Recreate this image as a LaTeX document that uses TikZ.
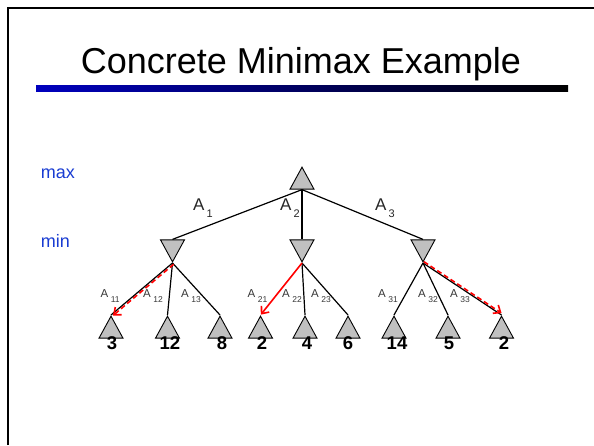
\documentclass[tikz,border=0pt]{standalone}
\usepackage{fontspec}
\setmainfont{Liberation Sans}
\usetikzlibrary{shapes.geometric,arrows.meta}
\definecolor{lblue}{RGB}{25,60,210}
\definecolor{trigray}{RGB}{192,192,192}
\definecolor{barblue}{RGB}{0,0,190}
\definecolor{labgray}{RGB}{55,55,55}
\newcommand\mysubA[1]{\raisebox{-7pt}{\fontsize{11}{13}\selectfont #1}}
\newcommand\mysubB[1]{\raisebox{-5pt}{\fontsize{8.5}{10}\selectfont #1}}
\begin{document}
\begin{tikzpicture}[x=1pt,y=-1pt,
  maxtri/.style={isosceles triangle, isosceles triangle stretches, shape border rotate=90,
    minimum width=24pt, minimum height=22pt, inner sep=0pt, fill=trigray, draw=black,
    line width=0.9pt, anchor=apex},
  mintri/.style={maxtri, shape border rotate=270},
  edgeline/.style={line width=1.2pt, black},
  num/.style={font=\fontsize{18.5}{20}\selectfont\bfseries, inner sep=0pt},
  toplab/.style={font=\fontsize{17}{19}\selectfont, text=black!85, inner sep=0pt, anchor=base west},
  leaflab/.style={font=\fontsize{11.5}{13}\selectfont, text=labgray, inner sep=0pt, anchor=base west},
  lvl/.style={font=\fontsize{18}{20}\selectfont, text=lblue, inner sep=0pt, anchor=base west},
  redarrow/.style={draw=red, line width=1.6pt, -{Straight Barb[length=6pt,width=10pt]}},
  reddash/.style={redarrow, dash pattern=on 5pt off 3pt}]
\useasboundingbox (0,0) rectangle (594,445);
% slide frame and title
\draw[line width=2.2pt] (8,445) -- (8,8) -- (594,8);
\node[font=\fontsize{36}{40}\selectfont, inner sep=0pt, anchor=base] (title) at (301,73) {Concrete Minimax Example};
\shade[left color=barblue, right color=black] (36,85) rectangle (568,91);
% level labels
\node[lvl] (maxlab) at (40.7,178) {max};
\node[lvl] (minlab) at (40.7,247) {min};
% tree nodes
\node[maxtri] (r) at (302,166) {};
\node[mintri] (m1) at (172.5,263) {};
\node[mintri] (m2) at (302,263) {};
\node[mintri] (m3) at (423,263) {};
\node[maxtri] (t1) at (111,315) {};
\node[maxtri] (t2) at (167.5,315) {};
\node[maxtri] (t3) at (220,315) {};
\node[maxtri] (t4) at (260.5,315) {};
\node[maxtri] (t5) at (305,315) {};
\node[maxtri] (t6) at (348,315) {};
\node[maxtri] (t7) at (394,315) {};
\node[maxtri] (t8) at (448,315) {};
\node[maxtri] (t9) at (501.5,315) {};
% edges
\draw[edgeline] (r.lower side) -- (m1.lower side);
\draw[edgeline] (r.lower side) -- (m2.lower side);
\draw[edgeline] (r.lower side) -- (m3.lower side);
\draw[edgeline] (m1.apex) -- (t1.apex);
\draw[edgeline] (m1.apex) -- (t2.apex);
\draw[edgeline] (m1.apex) -- (t3.apex);
\draw[edgeline] (m2.apex) -- (t5.apex);
\draw[edgeline] (m2.apex) -- (t6.apex);
\draw[edgeline] (m3.apex) -- (t7.apex);
\draw[edgeline] (m3.apex) -- (t8.apex);
\draw[edgeline] (m3.apex) -- (t9.apex);
% red arrows
\draw[reddash, transform canvas={shift={(1.2,1.2)}}, shorten >=1pt] (m1.apex) -- (t1.apex);
\draw[redarrow, shorten >=0.5pt] (m2.apex) -- (t4.apex);
\draw[reddash, transform canvas={shift={(0.9,-1.3)}}, shorten >=1pt] (m3.apex) -- (t9.apex);
% values
\node[num] (v1) at (112,343.5) {3};
\node[num] (v2) at (170,343.5) {12};
\node[num] (v3) at (222,343.5) {8};
\node[num] (v4) at (262,343.5) {2};
\node[num] (v5) at (307,343.5) {4};
\node[num] (v6) at (348,343.5) {6};
\node[num] (v7) at (397,343.5) {14};
\node[num] (v8) at (449,343.5) {5};
\node[num] (v9) at (504,343.5) {2};
% action labels, top
\node[toplab] (a1) at (193,210) {A\kern2pt\mysubA{1}};
\node[toplab] (a2) at (280,210) {A\kern2pt\mysubA{2}};
\node[toplab] (a3) at (375,210) {A\kern2pt\mysubA{3}};
% action labels, bottom
\node[leaflab] (a11) at (100.5,297.5) {A\kern2.5pt\mysubB{11}};
\node[leaflab] (a12) at (143,297.5) {A\kern2.5pt\mysubB{12}};
\node[leaflab] (a13) at (181,297.5) {A\kern2.5pt\mysubB{13}};
\node[leaflab] (a21) at (247.5,297.5) {A\kern2.5pt\mysubB{21}};
\node[leaflab] (a22) at (282,297.5) {A\kern2.5pt\mysubB{22}};
\node[leaflab] (a23) at (311,297.5) {A\kern2.5pt\mysubB{23}};
\node[leaflab] (a31) at (378,297.5) {A\kern2.5pt\mysubB{31}};
\node[leaflab] (a32) at (418,297.5) {A\kern2.5pt\mysubB{32}};
\node[leaflab] (a33) at (450,297.5) {A\kern2.5pt\mysubB{33}};
\end{tikzpicture}
\end{document}
